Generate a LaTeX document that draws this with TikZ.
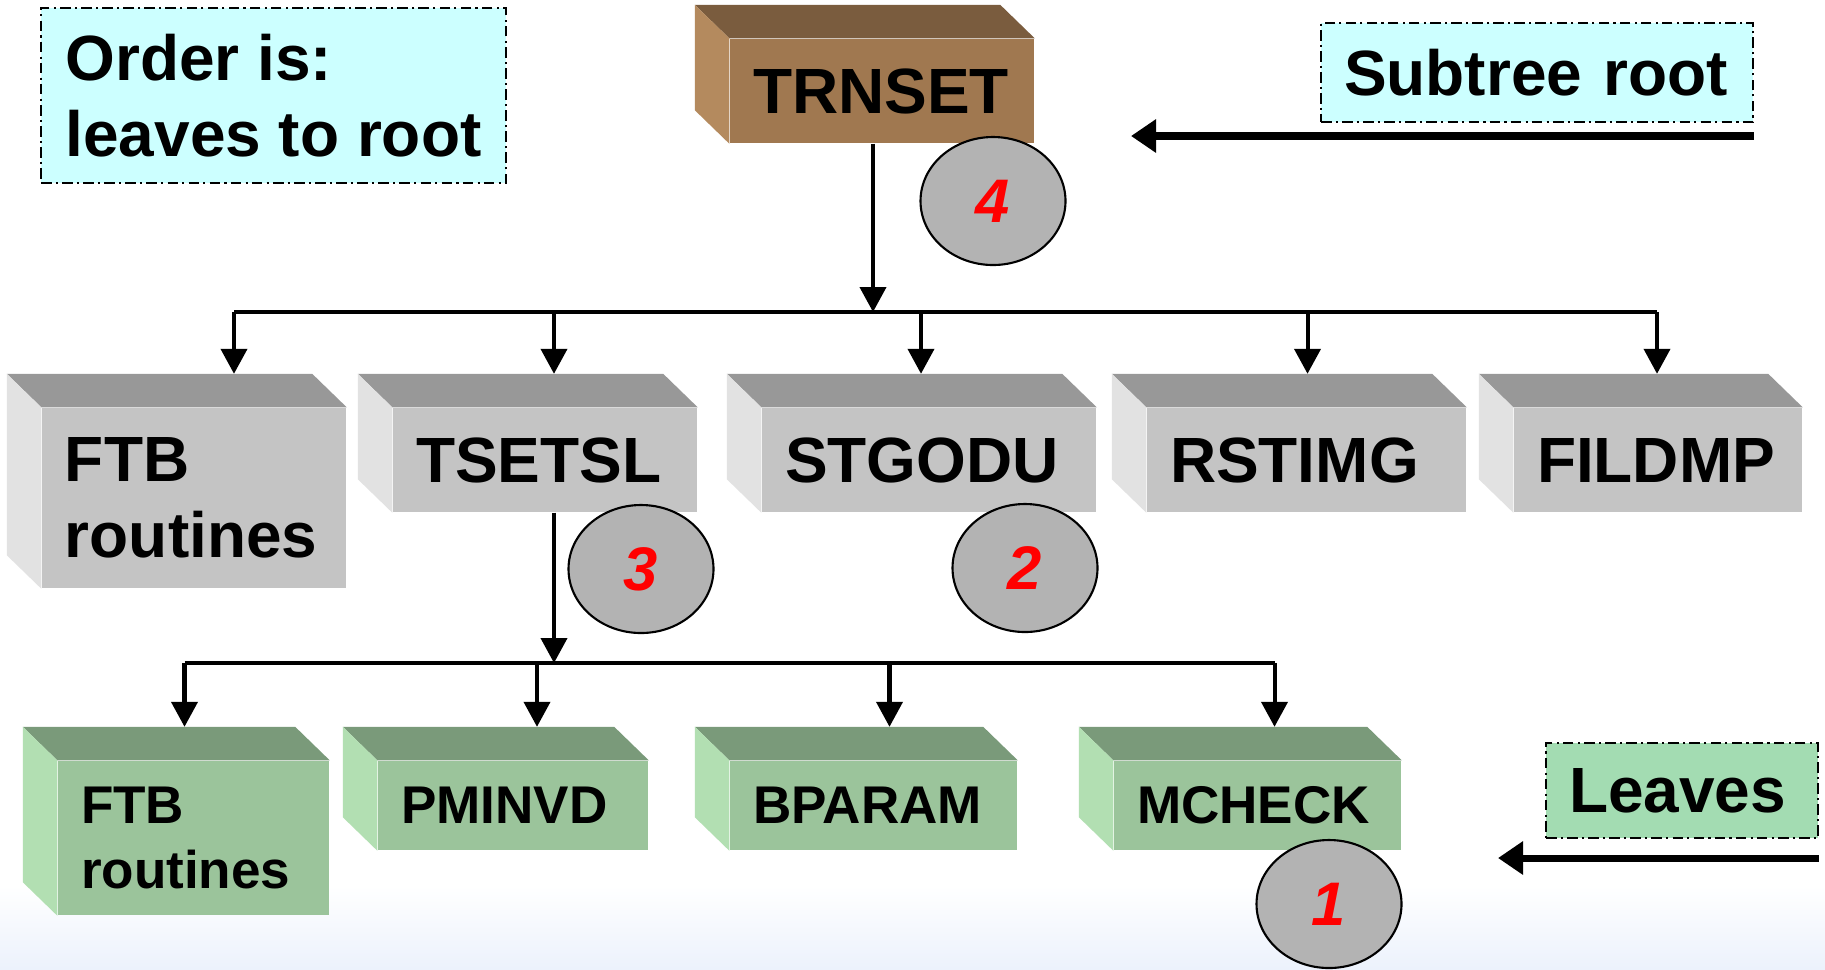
\documentclass[tikz,border=0pt]{standalone}
\usepackage{fontspec}
\setmainfont{Liberation Sans}
\usetikzlibrary{arrows.meta,calc,shapes.geometric}
\definecolor{brownfront}{RGB}{160,120,80}
\definecolor{browntop}{RGB}{122,92,62}
\definecolor{brownside}{RGB}{180,138,94}
\definecolor{grayfront}{RGB}{196,196,196}
\definecolor{graytop}{RGB}{152,152,152}
\definecolor{grayside}{RGB}{226,226,226}
\definecolor{greenfront}{RGB}{155,196,155}
\definecolor{greentop}{RGB}{122,154,122}
\definecolor{greenside}{RGB}{178,223,178}
\definecolor{notecyan}{RGB}{204,255,255}
\definecolor{notegreen}{RGB}{163,220,178}
\definecolor{bubblegray}{RGB}{179,179,179}
\definecolor{bgblue}{RGB}{236,242,252}

\begin{document}
\begin{tikzpicture}[>={Triangle[length=2.5mm,width=2.6mm]},
	box/.style={rectangle, inner xsep=0.23cm, inner ysep=0pt, align=left, minimum height=1.04cm,
		font=\bfseries\fontsize{18.2}{21.6}\selectfont},
	rootbox/.style={box, fill=brownfront},
	midbox/.style={box, fill=grayfront},
	leafbox/.style={box, fill=greenfront, minimum height=0.89cm, font=\bfseries\fontsize{15.1}{18.5}\selectfont},
	note/.style={box, draw, line width=0.45pt, dash pattern=on 3pt off 1.2pt on 0.6pt off 1.2pt},
	bubble/.style={ellipse, draw, line width=0.6pt, fill=bubblegray, minimum width=1.45cm, minimum height=1.28cm,
		inner sep=0pt, text=red, font=\bfseries\itshape\fontsize{17.5}{21}\selectfont},
	tree/.style={line width=1.15pt},
	note arrow/.style={line width=2pt, -{Triangle[length=2.5mm,width=3.2mm]}}
]
\fill[white] (0,0) rectangle (18.25,-9.69);
\shade[top color=white, bottom color=bgblue] (0,-8.85) rectangle (18.25,-9.69);
\useasboundingbox (0,0) rectangle (18.25,-9.69);

% root
\node[rootbox, text width=2.58cm] (trnset) at (8.82,-0.91) {TRNSET};

% second level
\node[midbox, text width=2.58cm, minimum height=1.80cm] (ftbA) at (1.94,-4.98) {FTB\\routines};
\node[midbox, text width=2.58cm] (tsetsl) at (5.45,-4.60) {TSETSL};
\node[midbox, text width=2.88cm] (stgodu) at (9.29,-4.60) {STGODU};
\node[midbox, text width=2.73cm] (rstimg) at (13.065,-4.60) {RSTIMG};
\node[midbox, text width=2.42cm] (fildmp) at (16.58,-4.60) {FILDMP};

% leaves
\node[leafbox, text width=2.25cm, minimum height=1.54cm] (ftbB) at (1.935,-8.38) {FTB\\routines};
\node[leafbox, text width=2.24cm] (pminvd) at (5.13,-8.055) {PMINVD};
\node[leafbox, text width=2.41cm] (bparam) at (8.735,-8.055) {BPARAM};
\node[leafbox, text width=2.41cm] (mcheck) at (12.575,-8.055) {MCHECK};

\foreach \n/\col in {trnset/brown, ftbA/gray, tsetsl/gray, stgodu/gray, rstimg/gray, fildmp/gray,
	ftbB/green, pminvd/green, bparam/green, mcheck/green}{
	\fill[\col top] (\n.north west) -- ++(-0.345,0.335) -- ($(\n.north east)+(-0.345,0.335)$) -- (\n.north east) -- cycle;
	\fill[\col side] (\n.north west) -- ++(-0.345,0.335) -- ($(\n.south west)+(-0.345,0.335)$) -- (\n.south west) -- cycle;
}

% connectors
\coordinate (bus1) at (8.73,-3.12);
\draw[tree,->] (trnset.south -| bus1) -- (bus1);
\foreach \n/\d in {ftbA/0.40, tsetsl/0.09, stgodu/-0.08, rstimg/0.01, fildmp/-0.01}{
	\coordinate (\n-in) at ([xshift=\d cm, yshift=0.335cm]\n.north);
	\draw[tree,->] (bus1 -| \n-in) -- (\n-in);
}
\draw[tree] (bus1 -| ftbA-in) -- (bus1 -| fildmp-in);

\coordinate (bus2) at ($(tsetsl-in |- 0,-6.63)$);
\draw[tree,->] (tsetsl.south -| bus2) -- (bus2);
\foreach \n/\d in {ftbB/-0.09, pminvd/0.24, bparam/0.16, mcheck/0.17}{
	\coordinate (\n-in) at ([xshift=\d cm, yshift=0.335cm]\n.north);
	\draw[tree,->] (bus2 -| \n-in) -- (\n-in);
}
\draw[tree] (bus2 -| ftbB-in) -- (bus2 -| mcheck-in);

% notes
\node[note, fill=notecyan, minimum width=4.65cm, minimum height=1.75cm] (order) at (2.735,-0.955) {Order is:\\leaves to root};
\node[note, fill=notecyan, text width=3.86cm, minimum height=0.99cm] (subroot) at (15.37,-0.725) {Subtree root};
\node[note, fill=notegreen, text width=2.26cm, minimum height=0.95cm] (leaves) at (16.82,-7.905) {Leaves};

\coordinate (subtip) at (11.31,-1.36);
\draw[note arrow] (subroot.south east |- subtip) -- (subtip);
\coordinate (leaftip) at (14.98,-8.58);
\draw[note arrow] (leaves.south east |- leaftip) -- (leaftip);

% visiting order
\node[bubble] (step4) at (9.93,-2.01) {4};
\node[bubble] (step3) at (6.41,-5.69) {3};
\node[bubble] (step2) at (10.25,-5.68) {2};
\node[bubble] (step1) at (13.29,-9.04) {1};
\end{tikzpicture}
\end{document}
